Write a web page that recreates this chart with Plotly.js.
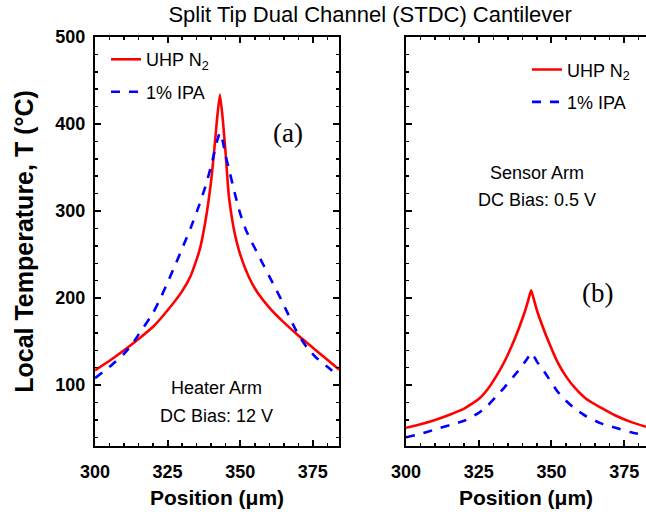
<!DOCTYPE html>
<html>
<head>
<meta charset="utf-8">
<script src="https://cdn.plot.ly/plotly-3.0.1.min.js"></script>
<style>html,body{margin:0;padding:0;background:#fff;}#chart{width:646px;height:512px;}</style>
</head>
<body>
<div id="chart"></div>
<script>
// Heater arm (a)
const heaterN2X = [300,305,310,315,320,325,330,333,336,338,340,341,342,343,344,345,346,347,348,350,353,356,360,365,370,375,380,384];
const heaterN2Y = [117,128,140,153,167,186,208,226,255,288,335,368,405,434,405,365,320,295,276,250,224,206,189,172,157,143,129,118];
const heaterIPAX = [300,305,310,313,315,320,323,325,328,330,333,336,338,340,341,342,343,344,345,346,348,350,352,354,356,358,360,362,364,366,368,370,373,376,380,384];
const heaterIPAY = [108,121,136,148,158,183,203,218,241,257,281,308,328,352,366,380,390,380,363,350,322,297,278,264,251,238,225,212,199,185,171,158,143,132,121,110];
// Sensor arm (b)
const sensorN2X = [300,305,310,315,320,325,328,331,334,337,339,341,342,343,344,345,347,349,352,355,358,362,367,372,377,382.5];
const sensorN2Y = [51,55,60,66,73,84,95,110,128,150,167,186,197,209,198,186,167,150,127,110,97,84,74,65,58,52];
const sensorIPAX = [300,305,310,315,320,325,328,331,334,337,339,341,342,343,344,345,347,349,352,355,358,362,367,372,377,382.5];
const sensorIPAY = [40,44,49,54,59,68,76,87,98,110,118,127,132,137,133,127,118,108,93,82,73,64,56,51,46,42];

const seriesNames = ["UHP N<sub>2</sub>", "1% IPA"];
const xTicks = [300,325,350,375];
const yTicks = [100,200,300,400,500];

const FONT = "Arial, 'Liberation Sans', sans-serif";
const SERIF = "'Times New Roman', 'Liberation Serif', serif";
const red = "#ff0000", blue = "#0000ff";

const traces = [
  {x: heaterN2X, y: heaterN2Y, name: seriesNames[0], mode: "lines", line: {color: red, width: 2.6, shape: "spline", smoothing: 0.5}, xaxis: "x", yaxis: "y", legend: "legend", legendgroup: "a1"},
  {x: heaterIPAX, y: heaterIPAY, name: seriesNames[1], mode: "lines", line: {color: blue, width: 2.6, dash: "dash", shape: "spline", smoothing: 0.5}, xaxis: "x", yaxis: "y", legend: "legend", legendgroup: "a2"},
  {x: sensorN2X, y: sensorN2Y, name: seriesNames[0], mode: "lines", line: {color: red, width: 2.6, shape: "spline", smoothing: 0.5}, xaxis: "x2", yaxis: "y2", legend: "legend2", legendgroup: "b1"},
  {x: sensorIPAX, y: sensorIPAY, name: seriesNames[1], mode: "lines", line: {color: blue, width: 2.6, dash: "dash", shape: "spline", smoothing: 0.5}, xaxis: "x2", yaxis: "y2", legend: "legend2", legendgroup: "b2"}
];

const axisCommon = {
  showline: true, linecolor: "#000", linewidth: 2,
  ticks: "inside", ticklen: 6, tickwidth: 2, tickcolor: "#000",
  showgrid: false, zeroline: false,
  tickfont: {family: FONT, size: 18, color: "#000", weight: "bold"}
};
const xCommon = Object.assign({}, axisCommon, {
  range: [300, 384], tickvals: xTicks, ticktext: xTicks.map(String),
  ticklabelstandoff: 8,
  minor: {dtick: 5, ticks: "inside", ticklen: 3, tickwidth: 1.5, tickcolor: "#000", showgrid: false},
  title: {text: "Position (μm)", font: {family: FONT, size: 21, color: "#000", weight: "bold"}, standoff: 10},
  mirror: "ticks"
});
const yCommon = Object.assign({}, axisCommon, {
  range: [30, 500], tickvals: yTicks, ticktext: yTicks.map(String),
  ticklabelstandoff: 4,
  minor: {dtick: 20, tick0: 0, ticks: "inside", ticklen: 3, tickwidth: 1.5, tickcolor: "#000", showgrid: false}
});

const layout = {
  width: 646, height: 512,
  margin: {l: 95, r: 0, t: 37, b: 66},
  paper_bgcolor: "#fff", plot_bgcolor: "#fff",
  font: {family: FONT, color: "#000"},
  title: {text: "Split Tip Dual Channel (STDC) Cantilever", font: {family: FONT, size: 22, color: "#000"}, x: 0.573, xanchor: "center", y: 0.972, yanchor: "middle"},
  xaxis: Object.assign({}, xCommon, {domain: [0, 0.4428], anchor: "y"}),
  xaxis2: Object.assign({}, xCommon, {domain: [0.5644, 1], anchor: "y2", range: [300, 382.5]}),
  yaxis: Object.assign({}, yCommon, {anchor: "x", mirror: "ticks",
    title: {text: "Local Temperature, T (°C)", font: {family: FONT, size: 25, color: "#000", weight: "bold"}, standoff: 15}}),
  yaxis2: Object.assign({}, yCommon, {anchor: "x2", showticklabels: false, mirror: false}),
  showlegend: true,
  legend: {x: 0.02, y: 0.99, xanchor: "left", yanchor: "top", bgcolor: "rgba(0,0,0,0)", borderwidth: 0,
    font: {family: FONT, size: 18, color: "#000"}, tracegroupgap: 6, traceorder: "grouped"},
  legend2: {x: 0.98, y: 0.965, xanchor: "right", yanchor: "top", bgcolor: "rgba(0,0,0,0)", borderwidth: 0,
    font: {family: FONT, size: 18, color: "#000"}, tracegroupgap: 6, traceorder: "grouped"},
  annotations: [
    {xref: "x", yref: "y", x: 366.4, y: 390, text: "(a)", showarrow: false, font: {family: SERIF, size: 27, color: "#000"}},
    {xref: "x2", yref: "y2", x: 366, y: 206, text: "(b)", showarrow: false, font: {family: SERIF, size: 27, color: "#000"}},
    {xref: "x", yref: "y", x: 342, y: 96.5, text: "Heater Arm", showarrow: false, font: {family: FONT, size: 18, color: "#000"}},
    {xref: "x", yref: "y", x: 342, y: 64.5, text: "DC Bias: 12 V", showarrow: false, font: {family: FONT, size: 18, color: "#000"}},
    {xref: "x2", yref: "y2", x: 345, y: 343.5, text: "Sensor Arm", showarrow: false, font: {family: FONT, size: 18, color: "#000"}},
    {xref: "x2", yref: "y2", x: 345, y: 312.5, text: "DC Bias: 0.5 V", showarrow: false, font: {family: FONT, size: 18, color: "#000"}}
  ]
};

Plotly.newPlot("chart", traces, layout, {displayModeBar: false, staticPlot: true});
</script>
</body>
</html>
